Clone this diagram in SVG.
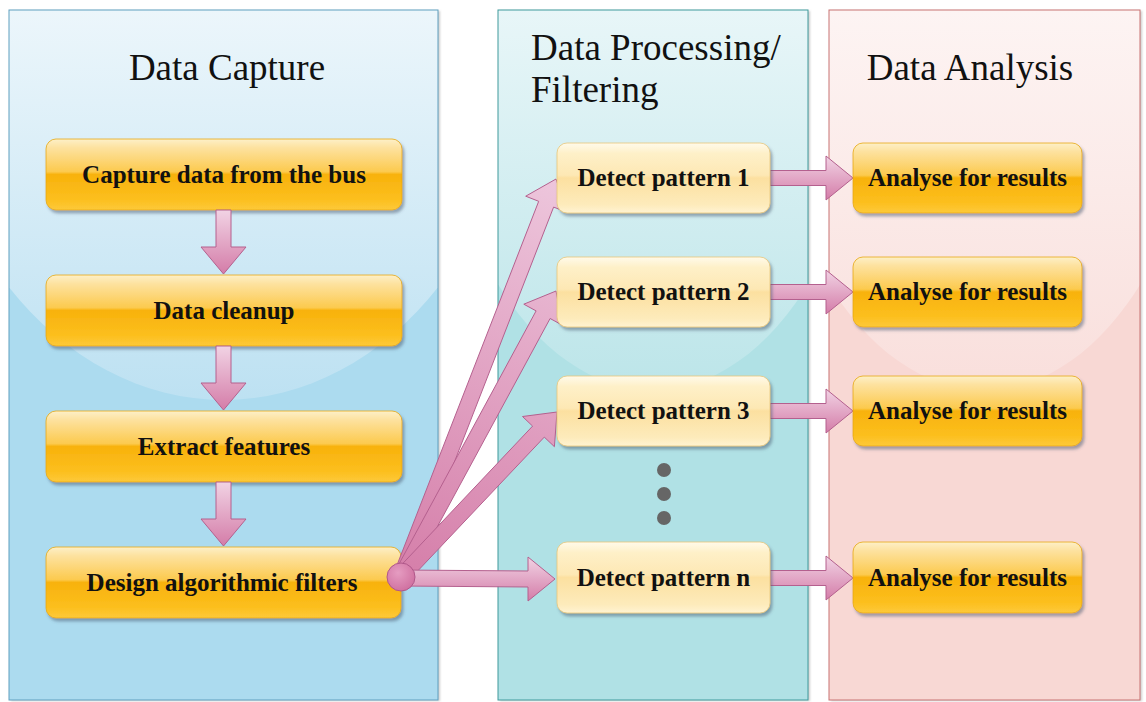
<svg xmlns="http://www.w3.org/2000/svg" width="1146" height="702" viewBox="0 0 1146 702">
  <defs>
    <style>
      .title { font-family: 'Liberation Serif', 'Times New Roman', serif; font-size: 37px; fill: #111; }
      .label { font-family: 'Liberation Serif', 'Times New Roman', serif; font-size: 25px; font-weight: bold; fill: #111; text-anchor: middle; }
      .gold { fill: url(#goldFill); stroke: #e7a812; stroke-width: 0.8; filter: url(#nodeShadow); }
      .pale { fill: url(#paleFill); stroke: #e9c77a; stroke-width: 0.8; filter: url(#nodeShadow); }
      .arrow { fill: url(#arrowFill); stroke: #b4608e; stroke-width: 1; stroke-linejoin: miter; }
      .fan { fill: url(#fanFill); stroke: #b4608e; stroke-width: 1; }
      .dot { fill: #666; }
    </style>

    <!-- glossy gold node -->
    <linearGradient id="goldFill" x1="0" y1="0" x2="0" y2="1">
      <stop offset="0" stop-color="#fdf0c8"/>
      <stop offset="0.12" stop-color="#fde2a0"/>
      <stop offset="0.46" stop-color="#fcca4e"/>
      <stop offset="0.5" stop-color="#f8b20c"/>
      <stop offset="0.85" stop-color="#fcbf1e"/>
      <stop offset="1" stop-color="#fdc93a"/>
    </linearGradient>

    <!-- pale yellow node -->
    <linearGradient id="paleFill" x1="0" y1="0" x2="0" y2="1">
      <stop offset="0" stop-color="#fffaea"/>
      <stop offset="0.15" stop-color="#fef0c8"/>
      <stop offset="0.46" stop-color="#fde8b4"/>
      <stop offset="0.5" stop-color="#fce0a0"/>
      <stop offset="0.88" stop-color="#fdebbb"/>
      <stop offset="1" stop-color="#fff3d2"/>
    </linearGradient>

    <!-- pink block arrows -->
    <linearGradient id="arrowFill" x1="0" y1="0" x2="0" y2="1">
      <stop offset="0" stop-color="#f1d3e4"/>
      <stop offset="1" stop-color="#d47ca8"/>
    </linearGradient>
    <linearGradient id="fanFill" gradientUnits="userSpaceOnUse" x1="401" y1="577" x2="556" y2="180">
      <stop offset="0" stop-color="#d57ea9"/>
      <stop offset="1" stop-color="#edc6dc"/>
    </linearGradient>
    <radialGradient id="hubFill" cx="0.4" cy="0.35" r="0.7">
      <stop offset="0" stop-color="#e59cc1"/>
      <stop offset="1" stop-color="#cf6f9f"/>
    </radialGradient>

    <!-- panel shine gradients -->
    <linearGradient id="shineBlue" gradientUnits="userSpaceOnUse" x1="0" y1="10" x2="0" y2="400">
      <stop offset="0" stop-color="#ecf6fb"/>
      <stop offset="1" stop-color="#bde1f2"/>
    </linearGradient>
    <linearGradient id="shineTeal" gradientUnits="userSpaceOnUse" x1="0" y1="10" x2="0" y2="390">
      <stop offset="0" stop-color="#e8f6f8"/>
      <stop offset="1" stop-color="#bce5e9"/>
    </linearGradient>
    <linearGradient id="shineRose" gradientUnits="userSpaceOnUse" x1="0" y1="10" x2="0" y2="390">
      <stop offset="0" stop-color="#fdf4f3"/>
      <stop offset="1" stop-color="#f9dfdc"/>
    </linearGradient>

    <clipPath id="clipP1"><rect x="9" y="10" width="429" height="690"/></clipPath>
    <clipPath id="clipP2"><rect x="498" y="10" width="310" height="690"/></clipPath>
    <clipPath id="clipP3"><rect x="829" y="10" width="311" height="690"/></clipPath>

    <filter id="nodeShadow" x="-10%" y="-20%" width="125%" height="150%">
      <feGaussianBlur in="SourceAlpha" stdDeviation="1.5"/>
      <feOffset dx="2" dy="3" result="off"/>
      <feFlood flood-color="#4a5a70" flood-opacity="0.5"/>
      <feComposite in2="off" operator="in"/>
      <feMerge><feMergeNode/><feMergeNode in="SourceGraphic"/></feMerge>
    </filter>
    <filter id="panelShadow" x="-5%" y="-5%" width="110%" height="110%">
      <feGaussianBlur in="SourceAlpha" stdDeviation="1.2"/>
      <feOffset dx="2" dy="1" result="off"/>
      <feFlood flood-color="#707070" flood-opacity="0.35"/>
      <feComposite in2="off" operator="in"/>
      <feMerge><feMergeNode/><feMergeNode in="SourceGraphic"/></feMerge>
    </filter>

    <path id="downArrow" d="M216,0 H231 V37 H246 L223.5,64 L201,37 H216 Z"/>
    <path id="rightArrow" d="M770,-7.5 H826 V-22 L853,0 L826,22 V7.5 H770 Z"/>
  </defs>

  <rect width="1146" height="702" fill="#ffffff"/>

  <!-- column backgrounds -->
  <g id="panel-capture">
    <rect x="9" y="10" width="429" height="690" fill="#acdbef" filter="url(#panelShadow)"/>
    <ellipse cx="223.5" cy="10" rx="305" ry="390" fill="url(#shineBlue)" clip-path="url(#clipP1)"/>
    <rect x="9" y="10" width="429" height="690" fill="none" stroke="#5f9fbf" stroke-width="1"/>
    <text class="title" x="227" y="80" text-anchor="middle">Data Capture</text>
  </g>
  <g id="panel-processing">
    <rect x="498" y="10" width="310" height="690" fill="#b0e1e5" filter="url(#panelShadow)"/>
    <ellipse cx="653" cy="10" rx="224" ry="380" fill="url(#shineTeal)" clip-path="url(#clipP2)"/>
    <rect x="498" y="10" width="310" height="690" fill="none" stroke="#3e9a9c" stroke-width="1"/>
    <text class="title" x="531" y="60">Data Processing/</text>
    <text class="title" x="531" y="102">Filtering</text>
  </g>
  <g id="panel-analysis">
    <rect x="829" y="10" width="311" height="690" fill="#f8d8d4" filter="url(#panelShadow)"/>
    <ellipse cx="984.5" cy="10" rx="225" ry="380" fill="url(#shineRose)" clip-path="url(#clipP3)"/>
    <rect x="829" y="10" width="311" height="690" fill="none" stroke="#c87272" stroke-width="1"/>
    <text class="title" x="970" y="80" text-anchor="middle">Data Analysis</text>
  </g>

  <!-- capture steps -->
  <g id="node-capture">
    <rect class="gold" x="46" y="139" width="356" height="71" rx="10"/>
    <text class="label" x="224" y="183">Capture data from the bus</text>
  </g>
  <g id="node-cleanup">
    <rect class="gold" x="46" y="275" width="356" height="71" rx="10"/>
    <text class="label" x="224" y="319">Data cleanup</text>
  </g>
  <g id="node-features">
    <rect class="gold" x="46" y="411" width="356" height="71" rx="10"/>
    <text class="label" x="224" y="455">Extract features</text>
  </g>
  <g id="node-filters">
    <rect class="gold" x="46" y="547" width="355" height="71" rx="10"/>
    <text class="label" x="222" y="591">Design algorithmic filters</text>
  </g>

  <!-- connectors -->
  <g id="connectors">
    <use href="#downArrow" class="arrow" transform="translate(0,210)"/>
    <use href="#downArrow" class="arrow" transform="translate(0,346)"/>
    <use href="#downArrow" class="arrow" transform="translate(0,482)"/>

    <polygon class="fan" points="393.5,574.1 538.7,201.3 525.7,196.2 556,179 566.7,212.1 553.6,207.1 408.5,579.9"/>
    <polygon class="fan" points="394,573.2 536.1,310.9 523.8,304.2 556,291 562.4,325.2 550.1,318.5 408,580.8"/>
    <polygon class="fan" points="395.2,571.5 532.6,426.1 522.5,416.5 557,412 554.4,446.7 544.3,437.1 406.8,582.5"/>
    <path class="arrow" d="M401,570 L528,571 L528,557 L555,579 L528,601 L528,587 L401,586 Z"/>
    <circle cx="401" cy="577" r="14" fill="url(#hubFill)" stroke="#b0588a" stroke-width="1"/>

    <use href="#rightArrow" class="arrow" transform="translate(0,178)"/>
    <use href="#rightArrow" class="arrow" transform="translate(0,292)"/>
    <use href="#rightArrow" class="arrow" transform="translate(0,411)"/>
    <use href="#rightArrow" class="arrow" transform="translate(0,578)"/>
  </g>

  <!-- pattern detectors -->
  <g id="node-detect-1">
    <rect class="pale" x="557" y="143" width="213" height="70" rx="10"/>
    <text class="label" x="663.5" y="186">Detect pattern 1</text>
  </g>
  <g id="node-detect-2">
    <rect class="pale" x="557" y="257" width="213" height="70" rx="10"/>
    <text class="label" x="663.5" y="300">Detect pattern 2</text>
  </g>
  <g id="node-detect-3">
    <rect class="pale" x="557" y="376" width="213" height="70" rx="10"/>
    <text class="label" x="663.5" y="419">Detect pattern 3</text>
  </g>
  <g id="ellipsis">
    <circle class="dot" cx="664" cy="470" r="7"/>
    <circle class="dot" cx="664" cy="494" r="7"/>
    <circle class="dot" cx="664" cy="518" r="7"/>
  </g>
  <g id="node-detect-n">
    <rect class="pale" x="557" y="542" width="213" height="71" rx="10"/>
    <text class="label" x="663.5" y="586">Detect pattern n</text>
  </g>

  <!-- analysis steps -->
  <g id="node-analyse-1">
    <rect class="gold" x="853" y="143" width="229" height="70" rx="10"/>
    <text class="label" x="967.5" y="186">Analyse for results</text>
  </g>
  <g id="node-analyse-2">
    <rect class="gold" x="853" y="257" width="229" height="70" rx="10"/>
    <text class="label" x="967.5" y="300">Analyse for results</text>
  </g>
  <g id="node-analyse-3">
    <rect class="gold" x="853" y="376" width="229" height="70" rx="10"/>
    <text class="label" x="967.5" y="419">Analyse for results</text>
  </g>
  <g id="node-analyse-n">
    <rect class="gold" x="853" y="542" width="229" height="71" rx="10"/>
    <text class="label" x="967.5" y="586">Analyse for results</text>
  </g>
</svg>
